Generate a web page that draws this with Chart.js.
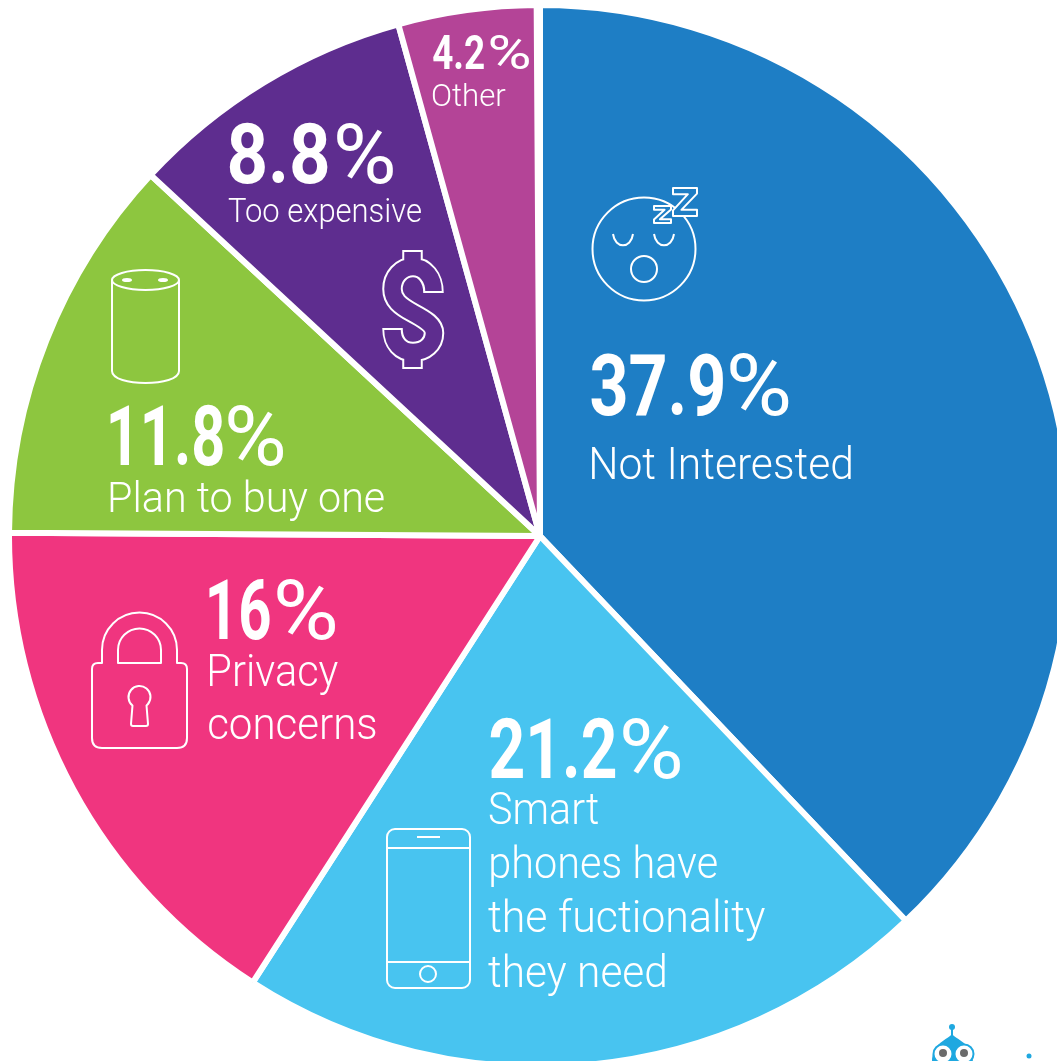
<!DOCTYPE html>
<html>
<head>
<meta charset="utf-8">
<title>Why people don't own a smart speaker</title>
<script src="https://cdn.jsdelivr.net/npm/chart.js@4"></script>
<style>
    html, body { margin: 0; height: 100%; overflow: hidden; background: #fff; }
    #pie { position: absolute; left: 6px; top: 2px; }
</style>
</head>
<body>
<canvas id="pie" width="1068" height="1068"></canvas>
<script>
const categories = ["Not Interested", "Smart phones have the fuctionality they need", "Privacy concerns", "Plan to buy one", "Too expensive", "Other"];
const shares = [37.9, 21.2, 16, 11.8, 8.8, 4.2];
const sliceColors = ["#1e7ec5", "#48c4f0", "#f0357f", "#8dc63f", "#5e2d8f", "#b44497"];

// caption lines, same order as categories
const captionLines = [
    ["Not Interested"],
    ["Smart", "phones have", "the fuctionality", "they need"],
    ["Privacy", "concerns"],
    ["Plan to buy one"],
    ["Too expensive"],
    ["Other"],
];

// per-slice text placement: number box, % box, caption lines as [x, width, baseline]
const labelLayout = [
    { x: 591, numW: 132, pctX: 730, pctW: 59, base: 415, size: 86, capSize: 45, caps: [[592, 259, 479]] },
    { x: 490, numW: 125, pctX: 623, pctW: 57, base: 778, size: 84, capSize: 45,
      caps: [[489, 109, 824], [491, 226, 878], [488, 277, 932], [488, 177, 987]] },
    { x: 209, numW: 61, pctX: 277, pctW: 58, base: 639, size: 84, capSize: 45, caps: [[210, 128, 686], [209, 167, 739]] },
    { x: 110, numW: 113, pctX: 228, pctW: 55, base: 465, size: 84, capSize: 43, caps: [[110, 274, 512]] },
    { x: 229, numW: 99, pctX: 337, pctW: 56, base: 183, size: 84, capSize: 33, caps: [[228, 193, 222]] },
    { x: 433, numW: 51, pctX: 490, pctW: 40, base: 69, size: 48, capSize: 32, caps: [[432, 74, 106]] },
];

// Draw text squeezed horizontally so its ink spans the given width
function fitText(ctx, text, x, base, w, size, weight) {
    ctx.font = `${weight} ${size}px Roboto`;
    const m = ctx.measureText(text);
    const ink = m.actualBoundingBoxRight + m.actualBoundingBoxLeft;
    ctx.save();
    ctx.translate(x, base);
    ctx.scale(w / ink, 1);
    ctx.fillText(text, m.actualBoundingBoxLeft, 0);
    ctx.restore();
}

function roundRect(ctx, x, y, w, h, r) {
    ctx.beginPath();
    ctx.roundRect(x, y, w, h, r);
    ctx.stroke();
}

function circle(ctx, x, y, r) {
    ctx.beginPath();
    ctx.arc(x, y, r, 0, Math.PI * 2);
    ctx.stroke();
}

// Outlined letter Z, filled with the slice colour so it hides the face behind it
function letterZ(ctx, x, y, w, h, fill) {
    const pts = [[0, 0], [1, 0], [1, .2], [.35, .78], [1, .78], [1, 1], [0, 1], [0, .8], [.62, .22], [0, .22]];
    ctx.beginPath();
    pts.forEach(([a, b]) => ctx.lineTo(x + a * w, y + b * h));
    ctx.closePath();
    ctx.fillStyle = fill;
    ctx.fill();
    ctx.stroke();
}

function drawSleepFace(ctx) {
    circle(ctx, 644, 249, 51.5);
    ctx.beginPath();
    ctx.moveTo(613, 234);
    ctx.bezierCurveTo(615, 249, 631, 249, 633, 234);
    ctx.moveTo(654, 234);
    ctx.bezierCurveTo(656, 249, 672, 249, 674, 234);
    ctx.stroke();
    circle(ctx, 644, 269, 13);
    letterZ(ctx, 654, 206, 17, 17, sliceColors[0]);
    letterZ(ctx, 673, 188, 24, 28, sliceColors[0]);
}

function drawSpeaker(ctx) {
    ctx.beginPath();
    ctx.ellipse(145.5, 280, 33.5, 10, 0, 0, Math.PI * 2);
    ctx.moveTo(112, 280);
    ctx.lineTo(112, 371);
    ctx.bezierCurveTo(112, 387, 179, 387, 179, 371);
    ctx.lineTo(179, 280);
    ctx.stroke();
    ctx.fillStyle = "#fff";
    [127, 163].forEach((x) => {
        ctx.beginPath();
        ctx.ellipse(x, 280, 5, 2, 0, 0, Math.PI * 2);
        ctx.fill();
    });
}

// S curve of the dollar sign; inset pulls the two open ends back
function dollarCurve(ctx, inset) {
    ctx.beginPath();
    ctx.moveTo(433.5, 293 - inset);
    ctx.bezierCurveTo(433.5, 278, 425, 267, 413, 267);
    ctx.bezierCurveTo(401, 267, 392.5, 277, 392.5, 289);
    ctx.bezierCurveTo(392.5, 300, 400, 306, 413, 313);
    ctx.bezierCurveTo(426, 320, 434, 325, 434, 333);
    ctx.bezierCurveTo(434, 344, 425, 352, 413, 352);
    ctx.bezierCurveTo(401, 352, 392.5, 343, 392.5, 328 + inset);
    ctx.moveTo(412.5, 250 + inset);
    ctx.lineTo(412.5, 262);
    ctx.moveTo(412.5, 357);
    ctx.lineTo(412.5, 369 - inset);
}

function drawDollar(ctx) {
    // white wide pass, then slice colour on top, leaves only the outline
    ctx.save();
    ctx.lineCap = "butt";
    ctx.lineJoin = "miter";
    ctx.strokeStyle = "#fff";
    ctx.lineWidth = 20.5;
    dollarCurve(ctx, 0);
    ctx.stroke();
    ctx.strokeStyle = sliceColors[4];
    ctx.lineWidth = 16.5;
    dollarCurve(ctx, 2);
    ctx.stroke();
    ctx.restore();
}

function drawLock(ctx) {
    ctx.beginPath();
    ctx.moveTo(102, 663);
    ctx.lineTo(98, 663);
    ctx.quadraticCurveTo(92, 663, 92, 669);
    ctx.lineTo(92, 738);
    ctx.quadraticCurveTo(92, 748, 102, 748);
    ctx.lineTo(177, 748);
    ctx.quadraticCurveTo(187, 748, 187, 738);
    ctx.lineTo(187, 669);
    ctx.quadraticCurveTo(187, 663, 181, 663);
    ctx.lineTo(177, 663);
    ctx.lineTo(177, 650);
    ctx.arc(139.5, 650, 37.5, 0, Math.PI, true);
    ctx.closePath();
    ctx.moveTo(118, 663);
    ctx.lineTo(118, 650);
    ctx.arc(139.5, 650, 21.5, Math.PI, 0);
    ctx.lineTo(161, 663);
    ctx.closePath();
    ctx.stroke();
    // keyhole
    ctx.beginPath();
    ctx.arc(139.5, 697, 11, Math.PI * 0.72, Math.PI * 0.28);
    ctx.lineTo(148, 724);
    ctx.quadraticCurveTo(148, 726, 146, 726);
    ctx.lineTo(133, 726);
    ctx.quadraticCurveTo(131, 726, 131, 724);
    ctx.closePath();
    ctx.stroke();
}

function drawPhone(ctx) {
    roundRect(ctx, 387, 829, 83, 159, 8);
    ctx.beginPath();
    ctx.moveTo(387, 848);
    ctx.lineTo(470, 848);
    ctx.moveTo(387, 962);
    ctx.lineTo(470, 962);
    ctx.moveTo(417, 837);
    ctx.lineTo(440, 837);
    ctx.stroke();
    circle(ctx, 428, 974, 8);
}

// Mascot peeking in at the page corner
function drawMascot(ctx) {
    const blue = "#1fa8e0";
    ctx.fillStyle = blue;
    ctx.strokeStyle = blue;
    ctx.lineWidth = 2;
    ctx.beginPath();
    ctx.arc(952, 1027, 3, 0, Math.PI * 2);
    ctx.fill();
    ctx.beginPath();
    ctx.moveTo(952, 1028);
    ctx.lineTo(952, 1036);
    ctx.stroke();
    ctx.beginPath();
    ctx.moveTo(952, 1034);
    ctx.bezierCurveTo(956, 1040, 972, 1042, 973, 1062);
    ctx.lineTo(932, 1062);
    ctx.bezierCurveTo(932, 1042, 948, 1040, 952, 1034);
    ctx.fill();
    [[943, 1054], [964, 1054]].forEach(([x, y]) => {
        ctx.fillStyle = "#fff";
        ctx.beginPath();
        ctx.arc(x, y, 9.5, 0, Math.PI * 2);
        ctx.fill();
        ctx.stroke();
        ctx.fillStyle = "#6b6b6b";
        ctx.beginPath();
        ctx.arc(x, y - 1, 4, 0, Math.PI * 2);
        ctx.fill();
    });
    ctx.fillStyle = blue;
    ctx.beginPath();
    ctx.arc(1029, 1056, 2.5, 0, Math.PI * 2);
    ctx.fill();
}

const slideText = {
    id: "slideText",
    afterDatasetsDraw(chart) {
        const ctx = chart.ctx;
        ctx.save();
        ctx.translate(-chart.canvas.offsetLeft, -chart.canvas.offsetTop);
        ctx.textBaseline = "alphabetic";
        ctx.textAlign = "left";
        ctx.fillStyle = "#fff";
        shares.forEach((v, i) => {
            const l = labelLayout[i];
            fitText(ctx, String(v), l.x, l.base, l.numW, l.size, 700);
            fitText(ctx, "%", l.pctX, l.base, l.pctW, l.size, 400);
            captionLines[i].forEach((line, k) => {
                const [x, w, base] = l.caps[k];
                fitText(ctx, line, x, base, w, l.capSize, 300);
            });
        });
        ctx.strokeStyle = "#fff";
        ctx.lineWidth = 2;
        ctx.lineJoin = "round";
        drawSleepFace(ctx);
        drawSpeaker(ctx);
        drawDollar(ctx);
        drawLock(ctx);
        drawPhone(ctx);
        drawMascot(ctx);
        ctx.restore();
    },
};

new Chart(document.getElementById("pie"), {
    type: "pie",
    data: {
        labels: categories,
        datasets: [{
            data: shares,
            backgroundColor: sliceColors,
            borderColor: "#fff",
            borderWidth: 6,
            hoverOffset: 0,
        }],
    },
    options: {
        responsive: false,
        animation: false,
        // the listed shares add up to 99.9 of 100
        circumference: 359.64,
        layout: { padding: 0 },
        plugins: {
            legend: { display: false },
            tooltip: { enabled: false },
        },
    },
    plugins: [slideText],
});
</script>
</body>
</html>
